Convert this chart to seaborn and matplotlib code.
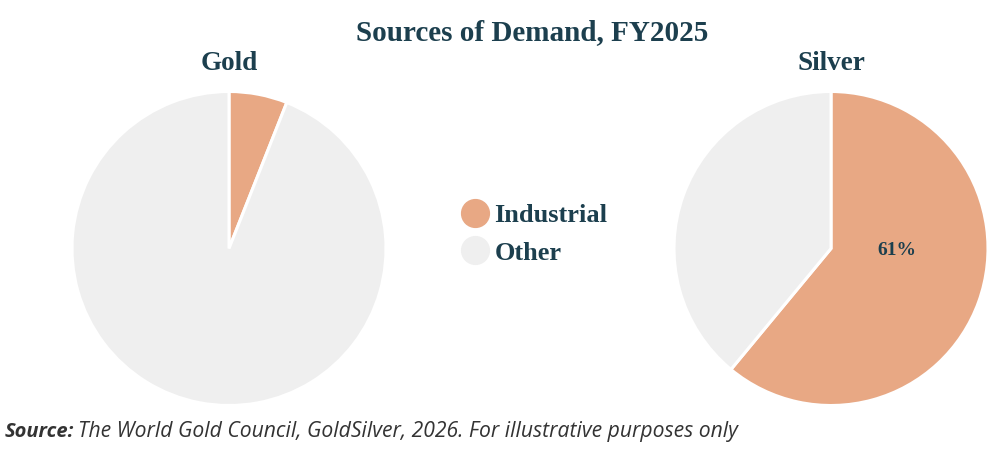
import matplotlib
matplotlib.use("Agg")
import matplotlib.pyplot as plt
from matplotlib.lines import Line2D
import seaborn as sns

# data
METALS = ["Gold", "Silver"]
CATEGORIES = ["Industrial", "Other"]
INDUSTRIAL_SHARE = [6, 61]
OTHER_SHARE = [94, 39]
SHOW_PCT = [False, True]

COLORS = ["#e8a884", "#efefef"]
TEXT_COLOR = "#1c3f4e"
SERIF = ["Liberation Serif", "DejaVu Serif"]

sns.set_theme(style="white")
plt.rcParams["font.family"] = ["Open Sans", "DejaVu Sans"]

fig = plt.figure(figsize=(9.96, 4.5), dpi=100)

# pie centres and radius in pixels
centres = [(229, 201.5), (831, 201.5)]
radius_px = 157

for i, metal in enumerate(METALS):
    cx, cy = centres[i]
    ax = fig.add_axes([(cx - radius_px) / 996, (cy - radius_px) / 450,
                       2 * radius_px / 996, 2 * radius_px / 450])
    vals = [INDUSTRIAL_SHARE[i], OTHER_SHARE[i]]
    ax.pie(vals, colors=COLORS, startangle=90, counterclock=False,
           radius=1.0, wedgeprops={"edgecolor": "white", "linewidth": 2.2})
    ax.set_xlim(-1.0, 1.0)
    ax.set_ylim(-1.0, 1.0)
    ax.set_aspect("equal")
    ax.axis("off")
    if SHOW_PCT[i]:
        ax.text(0.42, -0.01, f"{INDUSTRIAL_SHARE[i]}%", ha="center", va="center",
                fontsize=14, fontweight="bold", color=TEXT_COLOR, family=SERIF)
    fig.text(cx / 996, 1 - 64 / 450, metal, ha="center", va="center",
             fontsize=19.5, fontweight="bold", color=TEXT_COLOR, family=SERIF)

fig.text(532 / 996, 1 - 33 / 450, "Sources of Demand, FY2025", ha="center",
         va="center", fontsize=21, fontweight="bold", color=TEXT_COLOR,
         family=SERIF)

handles = [Line2D([0], [0], marker="o", linestyle="", markersize=20,
                  markerfacecolor=c, markeredgecolor=c) for c in COLORS]
leg = fig.legend(handles, CATEGORIES, loc="center left",
                 bbox_to_anchor=(435 / 996, 1 - 234 / 450), frameon=False,
                 handletextpad=0.15, labelspacing=0.55, handlelength=1.2,
                 prop={"family": SERIF, "weight": "bold", "size": 19})
for t in leg.get_texts():
    t.set_color(TEXT_COLOR)

fig.text(5 / 996, 1 - 432 / 450, "Source:", ha="left", va="center",
         fontsize=14.5, fontweight="bold", style="italic", color="#333333")
fig.text(78 / 996, 1 - 432 / 450,
         "The World Gold Council, GoldSilver, 2026. For illustrative purposes only",
         ha="left", va="center", fontsize=15.2, style="italic", color="#333333")

fig.savefig("out.png", dpi=100, facecolor="white")
